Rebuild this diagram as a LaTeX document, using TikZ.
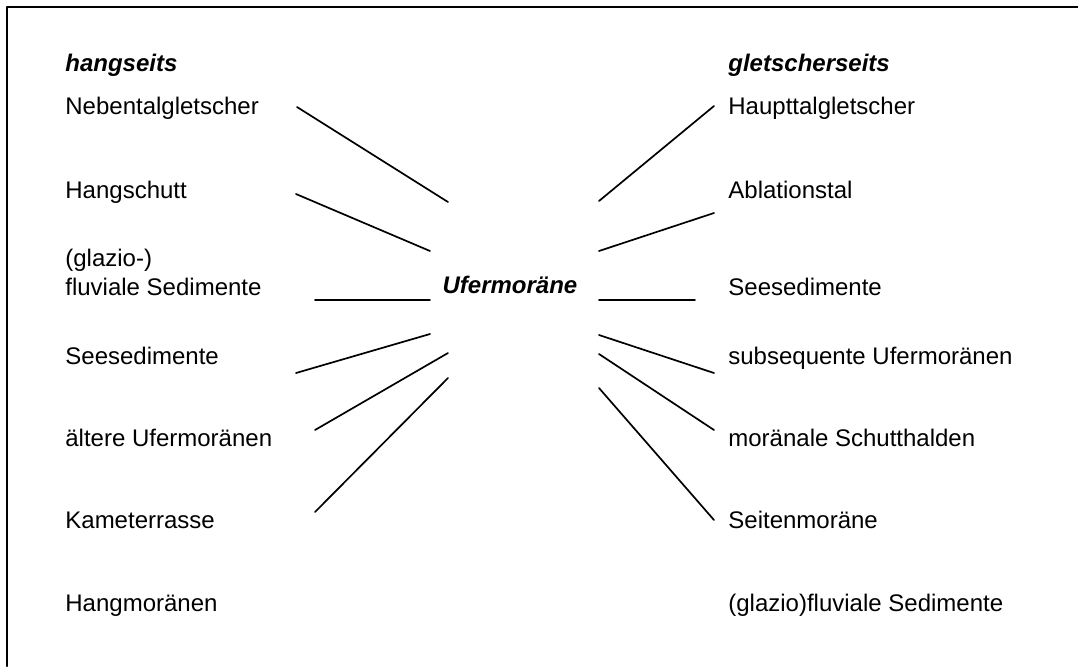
\documentclass[tikz,border=0pt]{standalone}
\usepackage{fontspec}
\setmainfont{Liberation Sans}
\begin{document}
\begin{tikzpicture}[x=0.5pt, y=-0.5pt, line cap=round, line join=round, font=\fontsize{12}{14.5}\selectfont,
	lbl/.style={anchor=base west, inner sep=0pt, align=left},
	head/.style={lbl, font=\fontsize{12}{14.5}\selectfont\bfseries\itshape},
	strahl/.style={line width=0.85pt}]
	\useasboundingbox (0,0) rectangle (1078,666);
	\draw[line width=1.1pt] (7,666) -- (7,7) -- (1078,7);
	% Kopfzeilen und Mitte
	\node[head] (hang) at (65,71) {hangseits};
	\node[head] (gl) at (728,71) {gletscherseits};
	\node[head, anchor=base] (ufer) at (510,293) {Ufermoräne};
	% hangseits
	\node[lbl] (l1) at (65,114) {Nebentalgletscher};
	\node[lbl] (l2) at (65,198) {Hangschutt};
	\node[lbl] (l3) at (65,295) {(glazio-)\\fluviale Sedimente};
	\node[lbl] (l4) at (65,364) {Seesedimente};
	\node[lbl] (l5) at (65,446) {ältere Ufermoränen};
	\node[lbl] (l6) at (65,528) {Kameterrasse};
	\node[lbl] (l7) at (65,611) {Hangmoränen};
	% gletscherseits
	\node[lbl] (r1) at (728,114) {Haupttalgletscher};
	\node[lbl] (r2) at (728,198) {Ablationstal};
	\node[lbl] (r3) at (728,295) {Seesedimente};
	\node[lbl] (r4) at (728,364) {subsequente Ufermoränen};
	\node[lbl] (r5) at (728,446) {moränale Schutthalden};
	\node[lbl] (r6) at (728,528) {Seitenmoräne};
	\node[lbl] (r7) at (728,611) {(glazio)fluviale Sedimente};
	% Endpunkte der Strahlen
	\foreach \n/\xa/\ya/\xb/\yb in {1/297/107/448/202, 2/296/194/430/251, 3/315/300/430/300,
		4/296/373/430/334, 5/315/430/448/353, 6/315/512/448/378}
	{
		\coordinate (la\n) at (\xa,\ya);
		\coordinate (lb\n) at (\xb,\yb);
	}
	\foreach \n/\xa/\ya/\xb/\yb in {1/599/201/714/106, 2/599/251/714/213, 3/599/300/695/300,
		4/599/335/714/373, 5/599/354/714/430, 6/599/388/714/520}
	{
		\coordinate (ra\n) at (\xa,\ya);
		\coordinate (rb\n) at (\xb,\yb);
	}
	\foreach \n in {1,...,6}
	{
		\draw[strahl] (la\n) -- (lb\n);
		\draw[strahl] (ra\n) -- (rb\n);
	}
\end{tikzpicture}
\end{document}
